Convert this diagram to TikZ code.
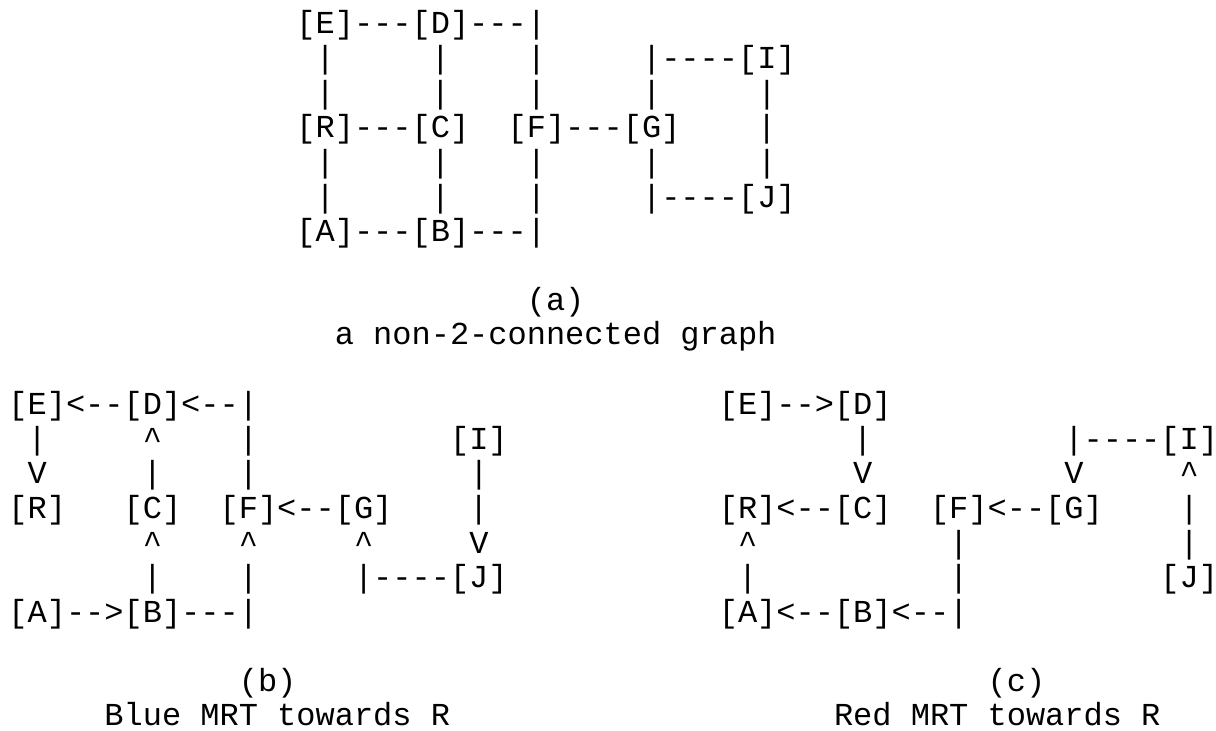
\documentclass[tikz,border=0pt]{standalone}
\usepackage{fontspec}
\setmonofont{Liberation Mono}

\tikzset{every picture/.style={line width=0.75pt}}
\tikzset{ascii/.style={anchor=base west, inner sep=0pt, font=\ttfamily\fontsize{24}{24}\selectfont}}

\begin{document}
\begin{tikzpicture}[x=0.75pt,y=0.75pt,yscale=-1,xscale=1]
	\useasboundingbox (0,0) rectangle (1216,731);
	
	% Text Node: (a) the graph
	\node [ascii] (a0) at (295.9,34) {[E]---[D]---|};
	\node [ascii] (a1) at (315.1,68.6) {|~~~~~|~~~~|~~~~~|----[I]};
	\node [ascii] (a2) at (315.1,103.2) {|~~~~~|~~~~|~~~~~|~~~~~|};
	\node [ascii] (a3) at (295.9,137.8) {[R]---[C]~~[F]---[G]~~~~|};
	\node [ascii] (a4) at (315.1,172.4) {|~~~~~|~~~~|~~~~~|~~~~~|};
	\node [ascii] (a5) at (315.1,207) {|~~~~~|~~~~|~~~~~|----[J]};
	\node [ascii] (a6) at (295.9,241.6) {[A]---[B]---|};
	% Text Node
	\node [ascii] (atag) at (526.3,310.8) {(a)};
	\node [ascii] (atitle) at (334.3,344.4) {a non-2-connected graph};
	
	% Text Node: (b) blue MRT
	\node [ascii] (b0) at (7.9,414.6) {[E]<--[D]<--|};
	\node [ascii] (b1) at (27.1,449.2) {|~~~~~\textasciicircum~~~~|~~~~~~~~~~[I]};
	\node [ascii] (b2) at (27.1,483.8) {V~~~~~|~~~~|~~~~~~~~~~~|};
	\node [ascii] (b3) at (7.9,518.4) {[R]~~~[C]~~[F]<--[G]~~~~|};
	\node [ascii] (b4) at (142.3,553) {\textasciicircum~~~~\textasciicircum~~~~~\textasciicircum~~~~~V};
	\node [ascii] (b5) at (142.3,587.6) {|~~~~|~~~~~|----[J]};
	\node [ascii] (b6) at (7.9,622.2) {[A]-->[B]---|};
	% Text Node
	\node [ascii] (btag) at (238.3,691.4) {(b)};
	\node [ascii] (btitle) at (103.9,725.5) {Blue MRT towards R};
	
	% Text Node: (c) red MRT
	\node [ascii] (c0) at (718.3,414.6) {[E]-->[D]};
	\node [ascii] (c1) at (852.7,449.2) {|~~~~~~~~~~|----[I]};
	\node [ascii] (c2) at (852.7,483.8) {V~~~~~~~~~~V~~~~~\textasciicircum};
	\node [ascii] (c3) at (718.3,518.4) {[R]<--[C]~~[F]<--[G]~~~~|};
	\node [ascii] (c4) at (737.5,553) {\textasciicircum~~~~~~~~~~|~~~~~~~~~~~|};
	\node [ascii] (c5) at (737.5,587.6) {|~~~~~~~~~~|~~~~~~~~~~[J]};
	\node [ascii] (c6) at (718.3,622.2) {[A]<--[B]<--|};
	% Text Node
	\node [ascii] (ctag) at (987.1,691.4) {(c)};
	\node [ascii] (ctitle) at (833.5,725.5) {Red MRT towards R};
\end{tikzpicture}
\end{document}
